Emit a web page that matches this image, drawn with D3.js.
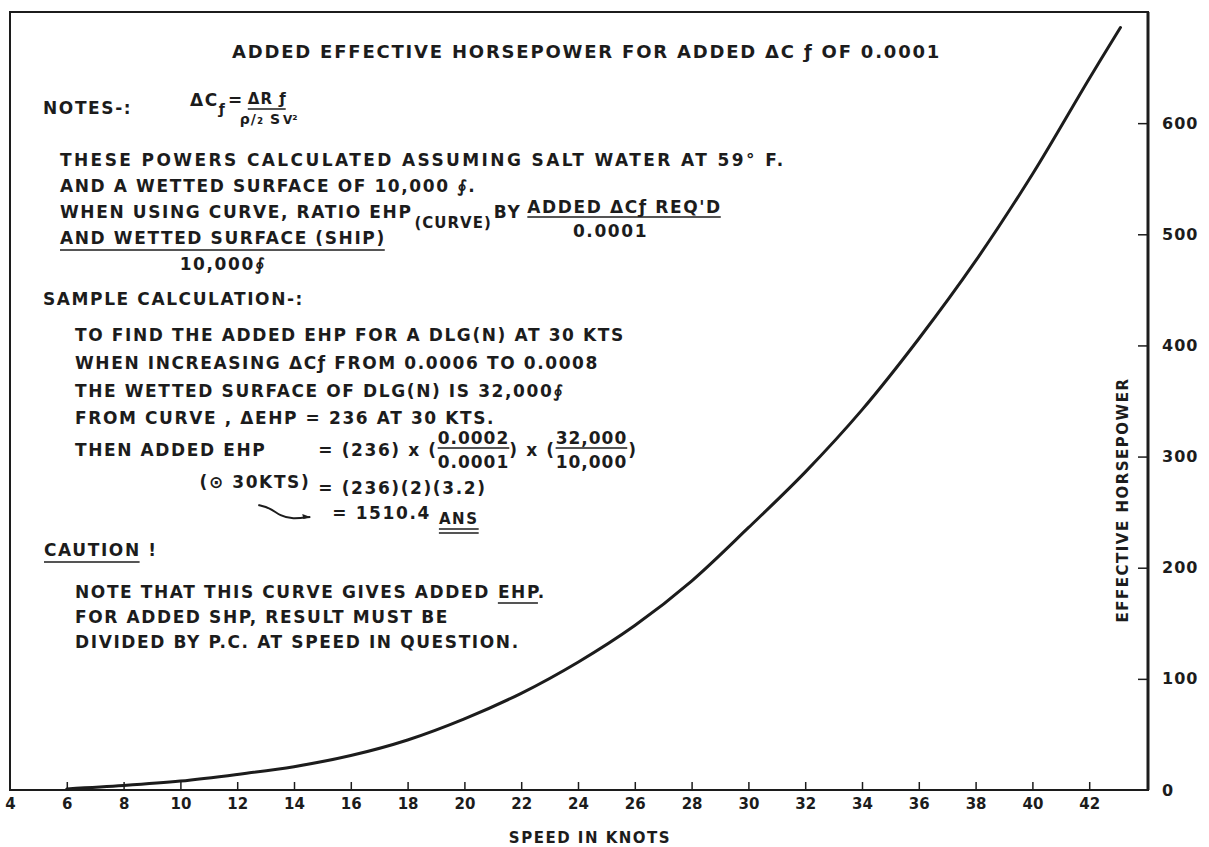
<!DOCTYPE html>
<html>
<head>
<meta charset="utf-8">
<script src="https://cdn.jsdelivr.net/npm/d3@7"></script>
<style>
  body { margin: 0; background: #fff; }
  svg text { font-family: "DejaVu Sans", sans-serif; font-weight: bold; fill: #1c1c1c; }
</style>
</head>
<body>
<svg width="1209" height="847"></svg>
<script>
// values
var speeds = [6, 8, 10, 12, 14, 16, 18, 20, 22, 24, 26, 28, 30, 32, 34, 36, 38, 40, 42, 43.1];
var addedEhp = [1, 4, 8, 14, 21, 31, 45, 64, 87, 115, 148, 188, 236, 286, 342, 406, 476, 554, 640, 686];
var xTickLabels = [4, 6, 8, 10, 12, 14, 16, 18, 20, 22, 24, 26, 28, 30, 32, 34, 36, 38, 40, 42];
var yTickLabels = [0, 100, 200, 300, 400, 500, 600];

var svg = d3.select("svg");
var ink = "#1c1c1c";

var x = d3.scaleLinear().domain([4, 44]).range([10, 1146]);
var y = d3.scaleLinear().domain([0, 700]).range([790, 12]);

// frame
svg.append("rect").attr("x", 10).attr("y", 12).attr("width", 1138).attr("height", 778)
  .attr("fill", "none").attr("stroke", ink).attr("stroke-width", 2);
svg.append("line").attr("x1", 1148).attr("x2", 1148).attr("y1", 12).attr("y2", 790)
  .attr("stroke", ink).attr("stroke-width", 3);

// x axis
var gx = svg.append("g").attr("transform", "translate(0,790)")
  .call(d3.axisBottom(x).tickValues(xTickLabels).tickSize(-8).tickPadding(8).tickFormat(d3.format("d")));
gx.select(".domain").remove();
gx.selectAll("line").attr("stroke", ink).attr("stroke-width", 1.5);
gx.selectAll("text").style("font-size", "15px").attr("fill", ink);
gx.selectAll(".tick").filter(function(d) { return d == 4; }).select("line").remove();

// y axis on the right
var gy = svg.append("g").attr("transform", "translate(1148,0)")
  .call(d3.axisRight(y).tickValues(yTickLabels).tickSize(-10).tickPadding(14));
gy.select(".domain").remove();
gy.selectAll("line").attr("stroke", ink).attr("stroke-width", 1.5);
gy.selectAll("text").style("font-size", "16px").style("letter-spacing", "1px").attr("fill", ink);
gy.selectAll(".tick").filter(function(d) { return d == 0; }).select("line").remove();

svg.append("text").attr("x", 590).attr("y", 843).attr("text-anchor", "middle")
  .style("font-size", "15px").style("letter-spacing", "1.5px").text("SPEED IN KNOTS");
svg.append("text").attr("transform", "translate(1128,500) rotate(-90)").attr("text-anchor", "middle")
  .style("font-size", "15px").style("letter-spacing", "1.5px").text("EFFECTIVE HORSEPOWER");

// the curve
var line = d3.line().x(function(d, i) { return x(speeds[i]); }).y(function(d) { return y(d); })
  .curve(d3.curveCatmullRom);
svg.append("path").datum(addedEhp).attr("d", line)
  .attr("fill", "none").attr("stroke", ink).attr("stroke-width", 3).attr("stroke-linecap", "round");

// lettering helpers
function txt(tx, ty, s, size, ls) {
  return svg.append("text").attr("x", tx).attr("y", ty)
    .style("font-size", (size || 17) + "px").style("letter-spacing", (ls == null ? 1.6 : ls) + "px").text(s);
}
function rule(x1, x2, ry, w) {
  svg.append("line").attr("x1", x1).attr("x2", x2).attr("y1", ry).attr("y2", ry)
    .attr("stroke", ink).attr("stroke-width", w || 1.6);
}
function width(t) { return t.node().getComputedTextLength(); }
// place pieces one after another on a line
function seq(x0, y0, parts) {
  var cx = x0, out = [];
  parts.forEach(function(p) {
    cx += p.gap || 0;
    var t = txt(cx, y0 + (p.dy || 0), p.s, p.size, p.ls);
    out.push({ t: t, x: cx, w: width(t) });
    cx += width(t);
  });
  return out;
}
function under(piece, ry) { rule(piece.x, piece.x + piece.w - 1, ry); }

txt(232, 58, "ADDED EFFECTIVE HORSEPOWER FOR ADDED ΔC ƒ OF 0.0001", 18, 1.8);

txt(43, 114, "NOTES-:");
var f = seq(190, 106, [{ s: "ΔC" }, { s: "ƒ", size: 14, dy: 8, ls: 0 }, { s: "=", gap: 3 },
  { s: "ΔR ƒ", size: 15, gap: 4, dy: -2, ls: 1 }]);
under(f[3], 109);
seq(f[3].x - 8, 124, [{ s: "ρ/₂ S", size: 14, ls: 1 }, { s: "V²", size: 12, gap: 2, ls: 0 }]);

txt(60, 166, "THESE POWERS CALCULATED ASSUMING SALT WATER AT 59° F.", 17, 2.4);
var notes = [
  [60, 192, "AND A WETTED SURFACE OF 10,000 ∮."],
  [43, 305, "SAMPLE CALCULATION-:"],
  [75, 341, "TO FIND THE ADDED EHP FOR A DLG(N) AT 30 KTS"],
  [75, 369, "WHEN INCREASING ΔCƒ FROM 0.0006  TO 0.0008"],
  [75, 397, "THE WETTED SURFACE OF DLG(N) IS 32,000∮"],
  [75, 424, "FROM CURVE , ΔEHP = 236 AT 30 KTS."],
  [75, 623, "FOR ADDED SHP, RESULT MUST BE"],
  [75, 648, "DIVIDED BY P.C. AT SPEED IN QUESTION."]
];
notes.forEach(function(n) { txt(n[0], n[1], n[2]); });

// ratio formula
var r = seq(60, 218, [{ s: "WHEN USING CURVE, RATIO EHP" }, { s: "(CURVE)", size: 15, dy: 10, gap: 2, ls: 1 },
  { s: "BY", gap: 2 }, { s: "ADDED ΔCƒ REQ'D", gap: 6, dy: -5 }]);
under(r[3], 217);
txt(r[3].x + r[3].w / 2 - 14, 237, "0.0001").attr("text-anchor", "middle");
var ws = seq(60, 244, [{ s: "AND WETTED SURFACE (SHIP)" }]);
under(ws[0], 250);
txt(ws[0].x + ws[0].w / 2, 270, "10,000∮").attr("text-anchor", "middle");

// sample calculation
var s1 = seq(75, 456, [{ s: "THEN ADDED EHP" }, { s: "= (236) x (", gap: 52 }]);
var eqX = s1[1].x;
var fr1 = seq(s1[1].x + s1[1].w, 444, [{ s: "0.0002", ls: 1 }]);
txt(fr1[0].x, 468, "0.0001", 17, 1);
rule(fr1[0].x, fr1[0].x + fr1[0].w, 448);
var s2 = seq(fr1[0].x + fr1[0].w, 456, [{ s: ") x (" }]);
var fr2 = seq(s2[0].x + s2[0].w, 444, [{ s: "32,000", ls: 1 }]);
txt(fr2[0].x, 468, "10,000", 17, 1);
rule(fr2[0].x, fr2[0].x + fr2[0].w, 448);
txt(fr2[0].x + fr2[0].w + 1, 456, ")");

txt(eqX - 8, 488, "(⊙ 30KTS)").attr("text-anchor", "end");
txt(eqX, 494, "= (236)(2)(3.2)");
var an = seq(eqX + 14, 519, [{ s: "= 1510.4" }, { s: "ANS", size: 15, gap: 8, dy: 5 }]);
rule(an[1].x, an[1].x + an[1].w, 529);
rule(an[1].x, an[1].x + an[1].w, 533);

var c = seq(44, 556, [{ s: "CAUTION !" }]);
rule(44, 44 + c[0].w - 18, 562);
var nt = seq(75, 598, [{ s: "NOTE THAT THIS CURVE  GIVES ADDED" }, { s: "EHP.", gap: 8 }]);
rule(nt[1].x, nt[1].x + nt[1].w - 8, 603);

var squiggle = [[eqX - 60, 505], [eqX - 48, 508], [eqX - 38, 516], [eqX - 26, 519], [eqX - 8, 517]];
svg.append("path").datum(squiggle)
  .attr("d", d3.line().curve(d3.curveBasis))
  .attr("fill", "none").attr("stroke", ink).attr("stroke-width", 2);
svg.append("path").attr("d", "M" + (eqX - 8) + ",517 l-8,-3 l1,5 z").attr("fill", ink);
</script>
</body>
</html>
